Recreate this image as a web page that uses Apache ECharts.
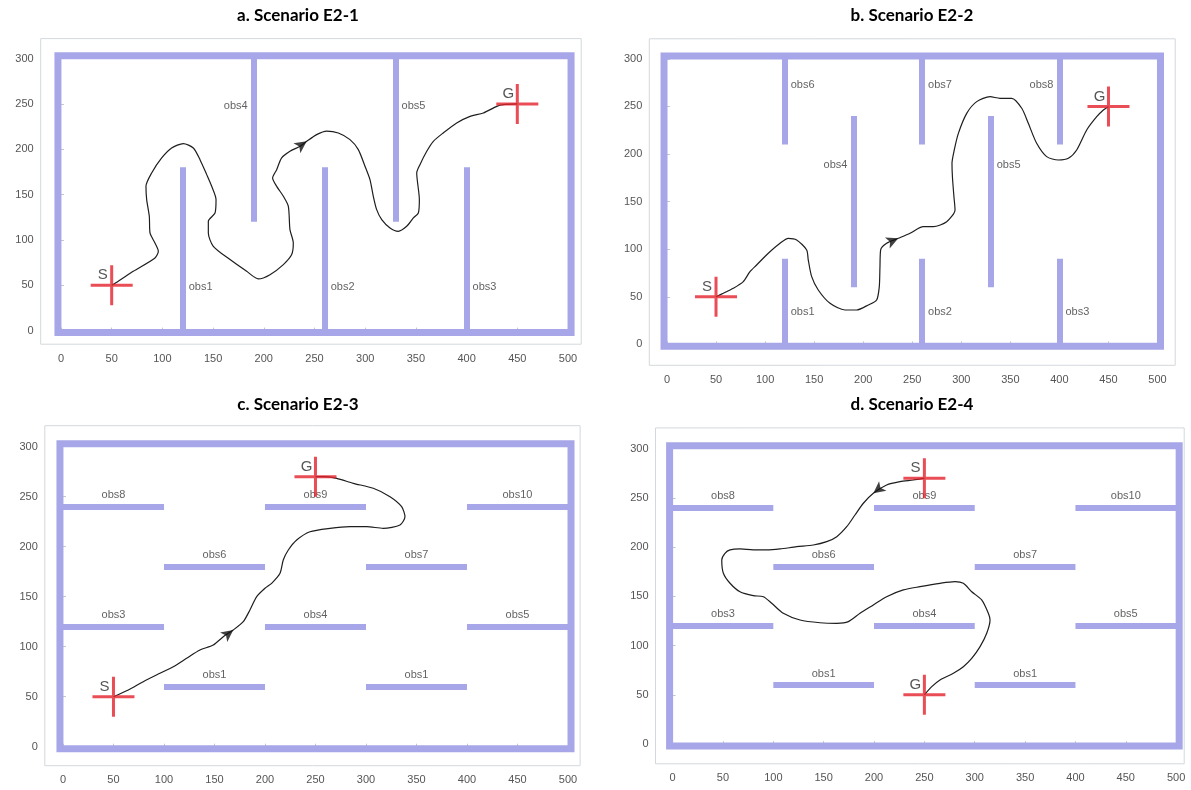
<!DOCTYPE html>
<html><head><meta charset="utf-8">
<script src="https://cdn.jsdelivr.net/npm/echarts@6/dist/echarts.min.js"></script>
<style>html,body{margin:0;padding:0;background:#fff}#c{width:1191px;height:790px}</style>
</head><body><div id="c"></div>
<script>
// ---------- data ----------
const xTicks = [0, 50, 100, 150, 200, 250, 300, 350, 400, 450, 500];
const yTicks = [0, 50, 100, 150, 200, 250, 300];
const titles = ['a. Scenario E2-1', 'b. Scenario E2-2', 'c. Scenario E2-3', 'd. Scenario E2-4'];
const wall = [[-3, -2], [503, -2], [503, 303], [-3, 303], [-3, -2]];

// Scenario E2-1
const obsNamesA = ['obs1', 'obs2', 'obs3', 'obs4', 'obs5'];
const obsSegsA = [[120, 0, 120, 180], [260, 0, 260, 180], [400, 0, 400, 180], [190, 120, 190, 303], [330, 120, 330, 303]];
const obsLabelA = [[120, 48, 'right'], [260, 48, 'right'], [400, 48, 'right'], [190, 248, 'left'], [330, 248, 'right']];
const startA = [50, 50], goalA = [450, 250];
const pathA = [[50,50],[56.5,54.4],[71.3,65.4],[92.7,80.1],[96,87.5],[92.7,96.6],[87.8,107.7],[87.1,126.1],[84.5,144.4],[83.8,159.1],[89.4,173.8],[99.3,190.4],[109.1,201.4],[120.6,206.2],[130.5,201.4],[137.1,188.5],[143.7,172],[148.6,159.1],[152.9,144.4],[151.9,129.7],[145.3,120.5],[145.3,107.7],[150.2,93],[166.7,78.3],[183.1,65.4],[194.6,57],[206.1,61.7],[219.3,72.8],[227.5,83.8],[229.1,96.6],[225.8,111.4],[224.2,137.1],[219.3,148.1],[212.7,159.1],[208.7,168.3],[212.7,177.5],[217.6,190.4],[225.8,197.7],[235.7,203.2],[242.3,208.7],[252.1,216.1],[262,220],[273.5,217.9],[285,210.6],[293.2,199.6],[299.8,181.2],[304.7,166.5],[308,148.1],[311.3,133.4],[316.3,122.4],[324.5,113.2],[332.6,109.5],[340.9,115],[347.5,124.2],[352.4,129.7],[353.4,144.4],[350.8,173.8],[354,183],[360.7,197.7],[367.2,208.7],[377,218],[390.2,229],[403.4,236.3],[416.5,240],[429.7,247.3],[436.2,249.2],[450,250]];
const arrowA = 39;

// Scenario E2-2
const obsNamesB = ['obs1', 'obs2', 'obs3', 'obs4', 'obs5', 'obs6', 'obs7', 'obs8'];
const obsSegsB = [[120, 0, 120, 90], [260, 0, 260, 90], [400, 0, 400, 90], [190, 60, 190, 240], [330, 60, 330, 240], [120, 210, 120, 303], [260, 210, 260, 303], [400, 210, 400, 303]];
const obsLabelB = [[120, 34, 'right'], [260, 34, 'right'], [400, 34, 'right'], [190, 188, 'left'], [330, 188, 'right'], [120, 272, 'right'], [260, 272, 'right'], [400, 272, 'left']];
const startB = [50, 50], goalB = [450, 250];
const pathB = [[50,50],[57.4,53.7],[67.6,58.9],[77.8,65.9],[84.6,76.4],[91.4,83.4],[103.3,95.7],[115.2,106.2],[123.7,111.4],[132.2,109.7],[142.4,99.2],[144,88.7],[147.5,71.1],[154.2,57.1],[166.2,43.1],[181.4,36.1],[193.3,36.1],[205.2,41.4],[213.7,46.6],[216.4,60.6],[217.1,81.6],[217.8,99.2],[223.9,106.2],[235.8,111.4],[247.7,116.7],[261.3,123.6],[271.5,123.6],[285.1,128.9],[293.6,141.2],[292.5,155],[291,175],[290.5,190],[293,205],[297,221.7],[305.5,242.7],[315.7,255],[329.3,260.2],[339.4,258.5],[351.4,258.5],[361.6,248],[368.3,232.2],[376.8,211.2],[387,197.2],[398.9,193.7],[409.1,195.5],[417.6,204.2],[427.8,225.2],[438,239.2],[444.8,246.2],[450,250]];
const arrowB = 23;

// Scenario E2-3 and E2-4 share the same obstacle field
const obsNamesC = ['obs8', 'obs9', 'obs10', 'obs6', 'obs7', 'obs3', 'obs4', 'obs5', 'obs1', 'obs1'];
const obsSegsC = [[-3, 240, 100, 240], [200, 240, 300, 240], [400, 240, 503, 240], [100, 180, 200, 180], [300, 180, 400, 180], [-3, 120, 100, 120], [200, 120, 300, 120], [400, 120, 503, 120], [100, 60, 200, 60], [300, 60, 400, 60]];
const obsLabelC = [[50, 240, 'top'], [250, 240, 'top'], [450, 240, 'top'], [150, 180, 'top'], [350, 180, 'top'], [50, 120, 'top'], [250, 120, 'top'], [450, 120, 'top'], [150, 60, 'top'], [350, 60, 'top']];
const startC = [50, 50], goalC = [250, 270];
const pathC = [[50,50],[64.7,56.7],[79.5,65],[96,73.4],[109.2,80],[122.4,88.4],[135.6,96.7],[148.8,101.7],[158.7,110],[168.6,116.7],[178.5,125],[185.1,136.7],[191.8,150],[200,158.4],[206.6,163.4],[214.9,173.4],[218.1,186.7],[223.1,196.7],[231.4,206.7],[244.5,215],[264.4,218.4],[284.2,220],[300.7,220],[317.1,218.4],[333.7,221.7],[338.6,230],[335.3,240],[323.8,250],[307.2,258.4],[287.4,263.4],[271,268.4],[259.4,270],[250,270]];
const arrowC = 9;

const startD = [250, 270], goalD = [250, 50];
const pathD = [[250,270],[239,268.1],[225.8,266.4],[212.5,263],[199.3,254.6],[189.4,244.5],[181.1,232.6],[172.9,220.7],[163,210.6],[153,205.5],[139.7,202.1],[123.2,200.4],[106.7,198.1],[93.4,197.1],[80.1,197.1],[66.9,198.1],[57,197.1],[52,193.7],[48.8,186.9],[50.4,173.4],[57,163.3],[66.9,154.7],[80.1,150.7],[90.1,149.6],[98.4,143],[109.9,132.8],[126.5,126],[146.4,123.2],[163,122.6],[174.5,124.3],[186.1,132.8],[199.3,141.2],[212.5,149.6],[229.1,156.5],[245.7,159.8],[265.5,163.2],[280.4,164.9],[288.7,163.2],[297,154.7],[306.9,146.3],[313.5,132.8],[315.2,126],[311.9,112.5],[305.3,98.9],[297,87],[288.7,78.6],[278.8,71.9],[265.5,65.1],[257.3,58.3],[250,50]];
const arrowD = 4;

// ---------- layout ----------
const panels = [
  {grid: {left: 40.7, top: 38.6, width: 540.5, height: 305.6}, x: [-20, 513], y: [-15, 322], title: [298, 16],
   names: obsNamesA, segs: obsSegsA, labels: obsLabelA, start: startA, goal: goalA, path: pathA, arrow: arrowA},
  {grid: {left: 649.3, top: 38.8, width: 525.9, height: 326.5}, x: [-18, 518], y: [-22, 321], title: [912, 16],
   names: obsNamesB, segs: obsSegsB, labels: obsLabelB, start: startB, goal: goalB, path: pathB, arrow: arrowB},
  {grid: {left: 44.8, top: 425.7, width: 535.3, height: 340}, x: [-18, 512], y: [-19, 321], title: [298, 405],
   names: obsNamesC, segs: obsSegsC, labels: obsLabelC, start: startC, goal: goalC, path: pathC, arrow: arrowC},
  {grid: {left: 655.5, top: 427.9, width: 528.7, height: 335.9}, x: [-17, 508], y: [-20, 321], title: [912, 405],
   names: obsNamesC, segs: obsSegsC, labels: obsLabelC, start: startD, goal: goalD, path: pathD, arrow: arrowD}
];

const WALL = '#a6a6e8';
const CROSS = 'path://M0,18.5L42,18.5L42,21.5L0,21.5Z M19.5,0L22.5,0L22.5,40L19.5,40Z';

const chart = echarts.init(document.getElementById('c'), null, {renderer: 'canvas'});

const grids = [], xAxes = [], yAxes = [], series = [], graphics = [];
panels.forEach((p, i) => {
  grids.push(Object.assign({show: true, borderColor: '#d4d8dc', borderWidth: 1, backgroundColor: '#fff'}, p.grid));
  xAxes.push({gridIndex: i, type: 'value', min: p.x[0], max: p.x[1],
    axisLine: {show: false},
    axisTick: {show: true, inside: true, length: 3, customValues: xTicks, lineStyle: {color: '#c4c8cc'}},
    axisLabel: {customValues: xTicks, color: '#555', fontSize: 11, fontFamily: 'Liberation Sans', margin: 9},
    splitLine: {show: false}});
  yAxes.push({gridIndex: i, type: 'value', min: p.y[0], max: p.y[1],
    axisLine: {show: false},
    axisTick: {show: true, inside: true, length: 3, customValues: yTicks, lineStyle: {color: '#c4c8cc'}},
    axisLabel: {customValues: yTicks, color: '#555', fontSize: 11, fontFamily: 'Liberation Sans', margin: 7},
    splitLine: {show: false}});
  // outer wall
  series.push({type: 'line', xAxisIndex: i, yAxisIndex: i, data: wall, showSymbol: false, silent: true, clip: false,
    lineStyle: {color: WALL, width: 7, join: 'miter', cap: 'square'}, z: 2});
  // obstacles
  series.push({type: 'lines', coordinateSystem: 'cartesian2d', xAxisIndex: i, yAxisIndex: i, silent: true,
    data: p.segs.map(s => ({coords: [[s[0], s[1]], [s[2], s[3]]]})),
    lineStyle: {color: WALL, width: 6, opacity: 1, cap: 'butt'}, z: 2});
  // obstacle labels
  series.push({type: 'scatter', xAxisIndex: i, yAxisIndex: i, symbolSize: 0, silent: true,
    data: p.labels.map((l, k) => ({value: [l[0], l[1]], label: {position: l[2]}, name: p.names[k]})),
    label: {show: true, formatter: '{b}', distance: 6, fontFamily: 'Liberation Sans', fontSize: 11, color: '#3a3a3a'}, z: 3});
  // path
  series.push({type: 'line', xAxisIndex: i, yAxisIndex: i, data: p.path, showSymbol: false, silent: true,
    smooth: 0.25, lineStyle: {color: '#1e1e1e', width: 1.2}, z: 5});
  // arrow head
  series.push({id: 'arrow' + i, type: 'scatter', xAxisIndex: i, yAxisIndex: i, silent: true,
    data: [p.path[p.arrow]], symbol: 'arrow', symbolSize: [9, 12], itemStyle: {color: '#111'}, z: 6});
  // start / goal crosses
  series.push({type: 'scatter', xAxisIndex: i, yAxisIndex: i, silent: true, symbol: CROSS, symbolSize: [42, 40],
    itemStyle: {color: '#e4202a'},
    data: [{value: p.start, name: 'S'}, {value: p.goal, name: 'G'}],
    label: {show: true, formatter: '{b}', position: 'inside', offset: [-9, -10], fontFamily: 'Liberation Sans', fontSize: 15, color: '#2a2a2a'},
    z: 7});
  graphics.push({type: 'text', x: p.title[0], y: p.title[1], silent: true,
    style: {text: titles[i], fill: '#000', font: 'bold 17px Lato', textAlign: 'center', textVerticalAlign: 'middle'}});
});

chart.setOption({animation: false, grid: grids, xAxis: xAxes, yAxis: yAxes, series: series, graphic: graphics});

// rotate arrow heads along the path direction
const upd = panels.map((p, i) => {
  const a = chart.convertToPixel({gridIndex: i}, p.path[p.arrow - 1]);
  const b = chart.convertToPixel({gridIndex: i}, p.path[p.arrow + 1]);
  const ang = Math.atan2(-(b[1] - a[1]), b[0] - a[0]) * 180 / Math.PI;
  return {id: 'arrow' + i, symbolRotate: ang - 90};
});
chart.setOption({series: upd});
</script></body></html>
